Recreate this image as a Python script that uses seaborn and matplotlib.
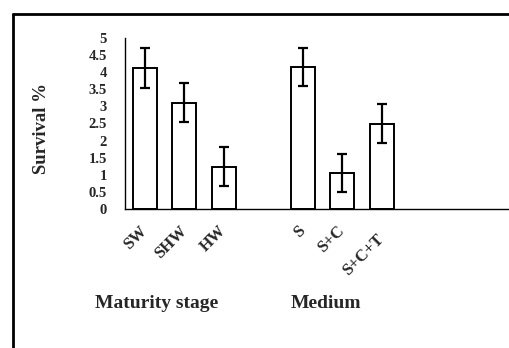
import numpy as np
import pandas as pd
import seaborn as sns
import matplotlib.pyplot as plt
from matplotlib.lines import Line2D

# values (' ' is the empty slot between the two groups)
order = ['SW', 'SHW', 'HW', ' ', 'S', 'S+C', 'S+C+T']
categories = ['SW', 'SHW', 'HW', 'S', 'S+C', 'S+C+T']
survival = [4.12, 3.11, 1.24, 4.16, 1.06, 2.50]
errors = [0.58, 0.57, 0.56, 0.56, 0.56, 0.57]
yticks = [0, 0.5, 1, 1.5, 2, 2.5, 3, 3.5, 4, 4.5, 5]
ytick_labels = ['0', '0.5', '1', '1.5', '2', '2.5', '3', '3.5', '4', '4.5', '5']

sns.set_style('white')
plt.rcParams['font.family'] = ['Liberation Serif', 'DejaVu Serif']
plt.rcParams['font.weight'] = 'bold'

df = pd.DataFrame({'cat': categories, 'val': survival, 'err': errors})

fig = plt.figure(figsize=(5.09, 3.48), dpi=100)
ax = fig.add_axes([125 / 509, 1 - 209 / 348, 383 / 509, 171 / 348])

sns.barplot(data=df, x='cat', y='val', order=order, ax=ax,
            color='white', edgecolor='black', linewidth=1.4, width=0.61,
            errorbar=None)

# precomputed error bars at the category positions
pos = [order.index(c) for c in categories]
ax.errorbar(pos, df['val'], yerr=df['err'],
            fmt='none', ecolor='black', elinewidth=1.6, capsize=3.5, capthick=1.6)

ax.set_xlim(-0.5, 9.2)
ax.set_ylim(0, 5)
ax.set_yticks(yticks)
ax.set_yticklabels(ytick_labels, fontsize=10.5, fontweight='bold')
ax.tick_params(axis='y', length=0, pad=13)
ax.tick_params(axis='x', length=0, pad=14)
ax.set_xticks(range(len(order)))
ax.set_xticklabels(order, rotation=45, ha='right', va='center',
                   rotation_mode='anchor', fontsize=12, fontweight='bold')
for lbl in ax.get_xticklabels():
    if lbl.get_text() == 'S+C+T':
        lbl.set_y(-0.05)

ax.set_xlabel('')
ax.set_ylabel('')
for side in ['top', 'right']:
    ax.spines[side].set_visible(False)
ax.spines['left'].set_linewidth(1.0)
ax.spines['bottom'].set_linewidth(1.0)
ax.spines['left'].set_color('black')
ax.spines['bottom'].set_color('black')

fig.text(42 / 509, 1 - 128 / 348, 'Survival %', rotation=90, ha='center',
         va='center', fontsize=13.5, fontweight='bold')
fig.text(157 / 509, 1 - 303 / 348, 'Maturity stage', ha='center', va='center',
         fontsize=14, fontweight='bold')
fig.text(326 / 509, 1 - 303 / 348, 'Medium', ha='center', va='center',
         fontsize=14, fontweight='bold')

# outer frame (cropped at right and bottom in the reference)
fig.add_artist(Line2D([13 / 509, 13 / 509], [0, 1 - 14 / 348],
                      transform=fig.transFigure, color='black', lw=2))
fig.add_artist(Line2D([13 / 509, 1], [1 - 14 / 348, 1 - 14 / 348],
                      transform=fig.transFigure, color='black', lw=2))

fig.savefig('out.png', dpi=100)
